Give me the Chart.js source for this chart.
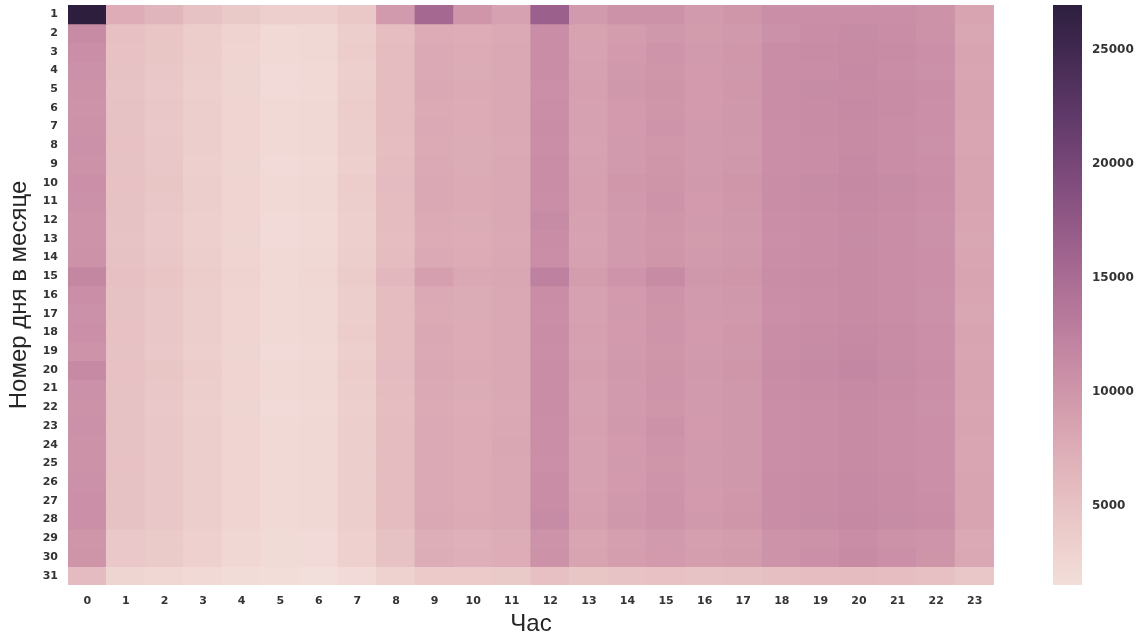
<!DOCTYPE html>
<html>
<head>
<meta charset="utf-8">
<script src="https://cdn.jsdelivr.net/npm/chart.js@4.4.1/dist/chart.umd.min.js"></script>
<style>
  html, body { margin: 0; padding: 0; background: #ffffff; }
  #wrap { position: relative; width: 1143px; height: 635px; overflow: hidden; }
  #main { position: absolute; left: 0; top: 0; }
  #cbar { position: absolute; left: 1000px; top: 0; }
</style>
</head>
<body>
<div id="wrap">
  <canvas id="main" width="1000" height="635"></canvas>
  <canvas id="cbar" width="143" height="635"></canvas>
</div>
<script>
const hours = ['0','1','2','3','4','5','6','7','8','9','10','11','12','13','14','15','16','17','18','19','20','21','22','23'];
const days = ['1','2','3','4','5','6','7','8','9','10','11','12','13','14','15','16','17','18','19','20','21','22','23','24','25','26','27','28','29','30','31'];
const colorbarTicks = [5000, 10000, 15000, 20000, 25000];
const xTitle = 'Час';
const yTitle = 'Номер дня в месяце';

// rides per (day of month, hour); rows = days 1..31, columns = hours 0..23
const counts = [
  [26970,7500,6500,5000,4200,3300,3300,4300,9500,15500,10000,8800,16500,9500,10500,10500,9500,10000,10800,10800,10800,10800,10500,8500],
  [11300,5300,4700,3700,2900,2200,2300,3600,5500,7700,7500,7900,11000,8600,9300,9800,9400,9700,10600,10900,11200,10900,10500,8200],
  [10800,5100,4600,3700,2800,2100,2300,3700,5700,7900,7700,8100,11000,8700,9600,10100,9500,9900,10900,11100,11300,11100,10700,8400],
  [10600,5000,4500,3600,2700,2000,2200,3500,5600,7900,7600,8000,10900,8800,9700,10000,9600,9800,10900,11000,11400,11000,10600,8300],
  [10500,4900,4400,3500,2700,2000,2200,3600,5700,8000,7800,8100,10700,8900,9800,10200,9600,9900,11000,11200,11300,11100,10800,8400],
  [10400,5000,4500,3600,2800,2100,2300,3700,5600,7800,7700,8100,10800,8800,9600,10000,9600,9800,10900,11100,11400,11100,10700,8400],
  [10500,5000,4400,3600,2800,2100,2300,3600,5700,7900,7700,8000,10900,8800,9600,10100,9500,9800,10800,11100,11300,11000,10700,8300],
  [10600,5100,4500,3600,2800,2100,2300,3600,5500,7800,7600,7900,10800,8700,9500,9900,9500,9700,10800,11000,11300,11000,10600,8300],
  [10500,5000,4500,3500,2700,2000,2200,3500,5600,7900,7600,8000,10900,8800,9500,10000,9500,9800,10800,11000,11400,11000,10700,8400],
  [10700,5100,4600,3600,2800,2100,2300,3700,5800,8100,7800,8100,10900,8900,9900,10200,9700,10000,11000,11200,11500,11200,10800,8500],
  [10600,5000,4500,3600,2800,2100,2300,3600,5700,8000,7800,8100,10800,8900,9700,10300,9600,9900,10900,11100,11400,11100,10700,8400],
  [10400,5000,4400,3500,2800,2000,2200,3500,5600,7800,7600,8000,11200,8800,9500,10000,9500,9800,10800,11000,11300,11000,10600,8300],
  [10300,4900,4400,3500,2700,2000,2200,3500,5500,7700,7500,7900,10900,8700,9500,9900,9400,9700,10700,11000,11200,10900,10600,8200],
  [10500,5000,4500,3600,2800,2100,2300,3600,5600,7900,7700,8000,10800,8800,9500,10000,9500,9800,10800,11000,11300,11000,10700,8300],
  [11800,5200,4700,3700,2900,2200,2400,3800,6300,9000,8000,8200,12500,9200,10100,11300,9800,10000,11000,11100,11300,11000,10700,8400],
  [10800,5000,4500,3600,2800,2100,2300,3600,5600,7900,7600,8000,11000,8800,9600,10300,9500,9800,10800,11000,11300,11000,10600,8300],
  [10600,5000,4500,3600,2800,2100,2300,3600,5600,7800,7600,8000,10800,8800,9500,10200,9500,9700,10700,11000,11300,11000,10600,8200],
  [10700,5100,4500,3600,2800,2100,2300,3700,5700,8000,7700,8100,10900,8900,9600,10100,9600,9900,10900,11100,11400,11100,10700,8400],
  [10400,5000,4400,3500,2700,2000,2200,3500,5600,7900,7700,8000,10800,8800,9500,10000,9500,9800,10900,11200,11500,11100,10700,8300],
  [11400,5100,4600,3700,2800,2100,2300,3700,5800,8100,7800,8100,11000,9000,9700,10200,9700,10000,11100,11400,11700,11200,10800,8500],
  [10600,5000,4500,3600,2800,2100,2300,3600,5600,7900,7600,8000,10900,8800,9500,10100,9500,9800,10900,11100,11400,11100,10700,8400],
  [10500,5000,4400,3500,2700,2000,2200,3500,5500,7800,7500,7900,10900,8800,9500,10000,9500,9800,10800,11000,11300,11000,10600,8300],
  [10600,5000,4500,3600,2800,2100,2300,3600,5600,7900,7700,8000,10800,8900,9700,10500,9600,9800,10800,11000,11300,11000,10700,8400],
  [10500,5000,4500,3600,2800,2100,2300,3600,5600,7900,7700,8200,10800,8800,9600,10100,9500,9800,10800,11000,11300,11000,10700,8300],
  [10500,5100,4500,3600,2800,2100,2300,3600,5600,7900,7700,8000,10700,8800,9500,10000,9500,9800,10800,11000,11300,11000,10700,8300],
  [10600,5000,4500,3600,2800,2100,2300,3600,5600,7900,7700,8000,10900,8800,9600,10100,9500,9800,10900,11100,11400,11100,10700,8400],
  [10700,5000,4500,3600,2800,2100,2300,3600,5700,7900,7700,8000,11000,8900,9700,10300,9600,9900,10900,11100,11400,11100,10800,8400],
  [10700,5000,4500,3600,2800,2100,2300,3600,5700,8000,7800,8100,11200,9000,9800,10400,9700,10000,11000,11200,11500,11200,10900,8500],
  [10000,4400,4000,3200,2500,1900,2000,3200,5000,7300,7100,7400,10300,8300,9000,9500,9000,9300,10300,10500,10900,10500,10100,7900],
  [10200,4400,4000,3200,2500,1900,2000,3200,5000,7400,7200,7500,10500,8400,9100,9600,9100,9400,10400,10700,11300,10700,10200,8000],
  [5800,2700,2500,2100,1800,1600,1544,2000,3100,4100,4100,4200,5200,4600,4900,5100,4900,5000,5400,5500,5600,5500,5300,4500]
];

const allValues = counts.flat();
const vmin = Math.min(...allValues);
const vmax = Math.max(...allValues);

// seaborn cubehelix_palette(as_cmap=True) defaults: start=0, rot=0.4, hue=0.8, light=0.85, dark=0.15
// (light end slightly washed out to match the reference photo)
function cubehelix(x, t) {
  const start = 0, rot = 0.4, gamma = 1.0, hue = 0.8;
  const xg = Math.pow(x, gamma);
  const a = hue * xg * (1 - xg) / 2;
  const phi = 2 * Math.PI * (start / 3 + rot * x);
  const c = Math.cos(phi), s = Math.sin(phi);
  const w = 0.28 * (1 - t) * (1 - t);
  const cl = v => {
    v = Math.max(0, Math.min(1, v));
    v = v + (1 - v) * w;
    return Math.round(255 * v);
  };
  const r = xg + a * (-0.14861 * c + 1.78277 * s);
  const g = xg + a * (-0.29227 * c - 0.90649 * s);
  const b = xg + a * (1.97294 * c);
  return 'rgb(' + cl(r) + ',' + cl(g) + ',' + cl(b) + ')';
}
function colorFor(v) {
  const t = Math.max(0, Math.min(1, (v - vmin) / (vmax - vmin)));
  return cubehelix(0.85 + (0.15 - 0.85) * t, t);
}

const tickColor = '#333333';
const tickFont = { family: 'DejaVu Sans', size: 11, weight: 'bold' };

const datasets = days.map((d, i) => ({
  label: d,
  data: hours.map(() => [i, i + 1]),
  backgroundColor: counts[i].map(colorFor),
  borderWidth: 0,
  borderSkipped: false,
  grouped: false,
  barPercentage: 1,
  categoryPercentage: 1,
  inflateAmount: 0.6
}));

new Chart(document.getElementById('main'), {
  type: 'bar',
  data: { labels: hours, datasets },
  options: {
    responsive: false,
    animation: false,
    events: [],
    layout: { padding: { left: 0, top: 5, right: 6, bottom: 0 } },
    plugins: { legend: { display: false }, tooltip: { enabled: false } },
    scales: {
      x: {
        type: 'category',
        grid: { display: false, drawTicks: false },
        border: { display: false },
        ticks: { color: tickColor, font: tickFont, padding: 10, maxRotation: 0, autoSkip: false },
        title: { display: true, text: xTitle, color: '#262626',
                 font: { family: 'Liberation Sans', size: 24, lineHeight: 0.9 },
                 padding: { top: 0, bottom: 0 } },
        afterFit: s => { s.height = 50; s.paddingLeft = 0; s.paddingRight = 0; }
      },
      y: {
        type: 'linear',
        min: 0,
        max: days.length,
        reverse: true,
        grid: { display: false, drawTicks: false },
        border: { display: false },
        afterBuildTicks: s => { s.ticks = days.map((d, i) => ({ value: i + 0.5 })); },
        ticks: { color: tickColor, font: tickFont, padding: 10, autoSkip: false,
                 callback: (v, i) => days[i] },
        title: { display: true, text: yTitle, color: '#262626',
                 font: { family: 'Liberation Sans', size: 24, lineHeight: 0.9 },
                 padding: { top: 9, bottom: 0 } },
        afterFit: s => { s.width = 68; s.paddingTop = 0; s.paddingBottom = 0; }
      }
    }
  }
});

new Chart(document.getElementById('cbar'), {
  type: 'bar',
  data: {
    labels: [''],
    datasets: [{
      data: [[vmin, vmax]],
      borderWidth: 0,
      borderSkipped: false,
      barPercentage: 1,
      categoryPercentage: 1,
      backgroundColor: (ctx) => {
        const chart = ctx.chart;
        if (!chart.chartArea) return colorFor(vmin);
        const y = chart.scales.y;
        const g = chart.ctx.createLinearGradient(0, y.getPixelForValue(vmin), 0, y.getPixelForValue(vmax));
        for (let k = 0; k <= 40; k++) {
          g.addColorStop(k / 40, colorFor(vmin + (vmax - vmin) * k / 40));
        }
        return g;
      }
    }]
  },
  options: {
    responsive: false,
    animation: false,
    events: [],
    layout: { padding: { left: 53, top: 5, right: 0, bottom: 50 } },
    plugins: { legend: { display: false }, tooltip: { enabled: false } },
    scales: {
      x: { display: false },
      y: {
        type: 'linear',
        position: 'right',
        min: vmin,
        max: vmax,
        grid: { display: false, drawTicks: false },
        border: { display: false },
        afterBuildTicks: s => { s.ticks = colorbarTicks.map(v => ({ value: v })); },
        ticks: { color: tickColor, font: { family: 'DejaVu Sans', size: 12, weight: 'bold' }, padding: 10,
                 callback: v => String(v) },
        afterFit: s => { s.width = 61; s.paddingTop = 0; s.paddingBottom = 0; }
      }
    }
  }
});
</script>
</body>
</html>
